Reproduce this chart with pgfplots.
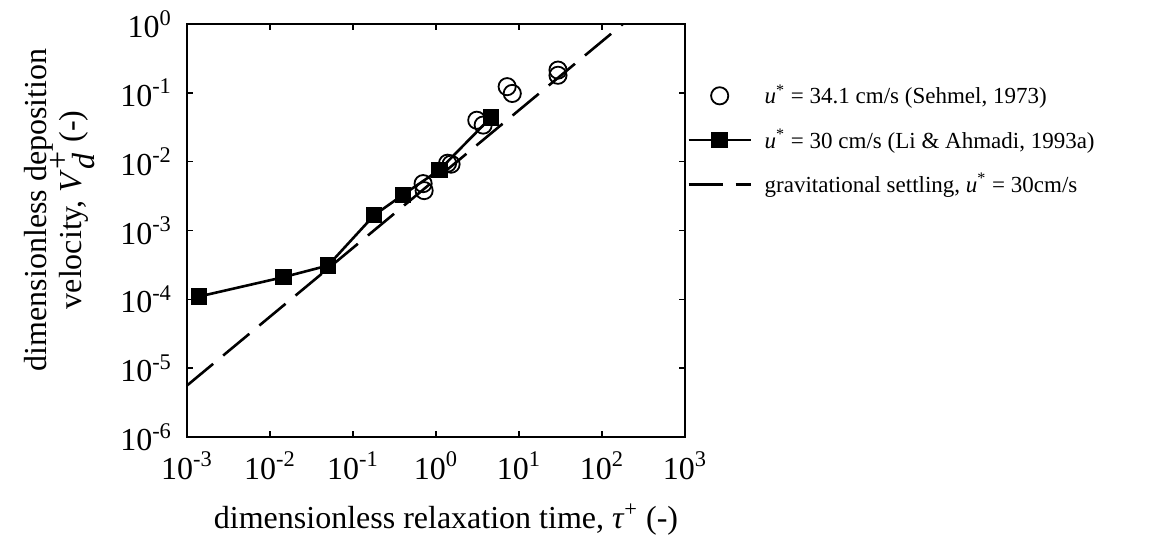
\documentclass[border=0pt]{standalone}
\usepackage{fontspec}
\setmainfont{Liberation Serif}
\usepackage{pgfplots}
\pgfplotsset{compat=1.18}
\newcommand{\tp}[1]{10\textsuperscript{#1}}
\newcommand{\us}{\textit{u}\textsuperscript{*}}
\begin{document}
\begin{tikzpicture}
\begin{axis}[
  name=ax, at={(0,0)}, anchor=south west,
  xmode=log, ymode=log,
  scale only axis, width=249pt, height=206.5pt,
  xmin=1e-3, xmax=1e3, ymin=1e-6, ymax=1,
  xtick={1e-3,1e-2,1e-1,1,1e1,1e2,1e3},
  xticklabels={\tp{-3},\tp{-2},\tp{-1},\tp{0},\tp{1},\tp{2},\tp{3}},
  ytick={1e-6,1e-5,1e-4,1e-3,1e-2,1e-1,1},
  yticklabels={\tp{-6},\tp{-5},\tp{-4},\tp{-3},\tp{-2},\tp{-1},\tp{0}},
  xminorticks=false, yminorticks=false,
  tick align=inside, major tick length=3pt,
  tick style={black, line width=0.8pt},
  axis line style={line width=1pt},
  every tick label/.append style={font=\fontsize{16}{16}\selectfont},
  xticklabel style={yshift=-4pt},
  yticklabel style={xshift=-4pt},
  label style={font=\fontsize{16}{16}\selectfont},
  xlabel={dimensionless relaxation time, \textit{τ}\textsuperscript{+} (-)},
  xlabel style={yshift=-5pt, xshift=5pt},
  ylabel={\makebox[0pt]{\raisebox{17.5pt}{dimensionless deposition}}\makebox[0pt]{velocity, \textit{V}$_{\textit{d}}^{\textrm{+}}$ (-)}},
  ylabel style={at={(ticklabel cs:0.55,6pt)}},
  legend cell align=left,
  legend image code/.code={\path[draw=none] (36pt,0pt);
    \draw[mark repeat=2,mark phase=2,#1] plot coordinates {(0pt,0pt) (15.5pt,0pt) (31pt,0pt)};},
  legend style={at={(1,0.719)}, anchor=west, xshift=1pt, draw=none, fill=none,
    font=\fontsize{11.5}{12}\selectfont, row sep=7pt, inner sep=0pt},
]
\addplot [only marks, mark=o, mark size=4.3pt, mark options={line width=0.9pt}, black]
coordinates {
  (0.70,4.8e-3) (0.72,3.8e-3) (1.38,9.5e-3) (1.52,9.2e-3)
  (3.1,0.040) (3.7,0.034) (7.2,0.123) (8.3,0.098)
  (29.5,0.214) (29.5,0.18)
};
\addlegendentry{\us{} = 34.1 cm/s (Sehmel, 1973)}

\addplot [black, line width=1.3pt, mark=square*, mark size=3.8pt, mark options={line width=0.6pt}]
coordinates {
  (1.4e-3,1.1e-4) (0.0145,2.1e-4) (0.050,3.1e-4) (0.18,1.67e-3)
  (0.40,3.3e-3) (1.1,7.6e-3) (4.6,0.044)
};
\addlegendentry{\us{} = 30 cm/s (Li \& Ahmadi, 1993a)}

\addplot [black, line width=1.3pt, dash pattern=on 17pt off 6.5pt]
coordinates {(1e-3,5.6e-6) (190,1.064)};
\addlegendentry{gravitational settling, \us{} = 30cm/s}
\end{axis}
\pgfresetboundingbox
\path[use as bounding box] (ax.south west) ++(-93.5pt,-53pt) rectangle ++(579pt,271.5pt);
\end{tikzpicture}
\end{document}
